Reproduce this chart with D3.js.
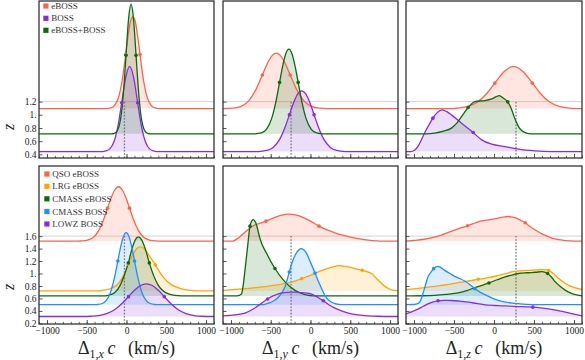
<!DOCTYPE html>
<html><head><meta charset="utf-8">
<script src="https://cdn.jsdelivr.net/npm/d3@7"></script>
<style>body{margin:0;background:#fff}svg{display:block}</style>
</head><body>
<svg id="c" width="585" height="360"></svg>
<script>
// ---------------- DATA ----------------
const components = ["x", "y", "z"];
const dipole = [-26, -244, 275];           // dotted reference line (km/s)
const xMajorTicks = [-1000, -500, 0, 500, 1000];
const xMinorTicks = d3.range(-1100, 1101, 100);

// top row
const topNames = ["eBOSS", "BOSS", "eBOSS+BOSS"];
const topColors = ["#FF6347", "#8A2BE2", "#0b6b0b"];
const topBase = [1.094, 0.443, 0.711];
const topZTicks = [0.4, 0.6, 0.8, 1.0, 1.2];
const topRefZ = 1.2;

// [velocity, height above baseline]
const top_x_eBOSS = [[-1100,0],[-250,0],[-200,0.01],[-150,0.05],[-100,0.17],[-50,0.46],[-10,0.82],[20,1.10],[50,1.32],[80,1.39],[110,1.32],[140,1.10],[170,0.82],[210,0.46],[260,0.17],[310,0.05],[360,0.01],[410,0],[1100,0]];
const top_x_BOSS = [[-1100,0],[-300,0],[-260,0.01],[-210,0.04],[-160,0.14],[-110,0.37],[-60,0.74],[-10,1.12],[40,1.29],[90,1.12],[140,0.74],[190,0.37],[240,0.14],[290,0.04],[340,0.01],[380,0],[1100,0]];
const top_x_comb = [[-1100,0],[-190,0],[-153,0.008],[-123,0.033],[-93,0.116],[-63,0.32],[-33,0.71],[-3,1.25],[27,1.755],[57,1.965],[87,1.755],[117,1.25],[147,0.71],[177,0.32],[207,0.116],[237,0.033],[267,0.008],[300,0],[1100,0]];
const top_y_eBOSS = [[-1100,0],[-980,0.006],[-880,0.031],[-780,0.114],[-680,0.303],[-605,0.51],[-530,0.714],[-480,0.806],[-430,0.84],[-380,0.806],[-330,0.714],[-255,0.51],[-180,0.303],[-80,0.114],[20,0.031],[120,0.006],[200,0],[1100,0]];
const top_y_BOSS = [[-1100,0],[-650,0],[-630,0.003],[-550,0.016],[-470,0.062],[-390,0.18],[-320,0.368],[-265,0.558],[-210,0.747],[-160,0.873],[-110,0.92],[-60,0.873],[-10,0.747],[45,0.558],[100,0.368],[170,0.18],[250,0.062],[330,0.016],[410,0.003],[460,0],[1100,0]];
const top_y_comb = [[-1100,0],[-700,0],[-672,0.004],[-612,0.019],[-552,0.073],[-492,0.219],[-432,0.504],[-389,0.78],[-352,1.015],[-312,1.21],[-272,1.283],[-232,1.21],[-192,1.015],[-155,0.78],[-112,0.504],[-52,0.219],[8,0.073],[68,0.019],[128,0.004],[170,0],[1100,0]];
const top_z_eBOSS = [[-1100,0],[-520,0],[-455,0.0075],[-325,0.034],[-205,0.10],[-85,0.237],[10,0.386],[125,0.558],[185,0.616],[245,0.636],[305,0.616],[365,0.558],[480,0.386],[575,0.237],[695,0.10],[815,0.034],[945,0.0075],[1100,0]];
const top_z_BOSS = [[-1100,0],[-1040,0],[-990,0.025],[-952,0.076],[-910,0.17],[-868,0.28],[-810,0.41],[-764,0.506],[-710,0.59],[-650,0.632],[-590,0.605],[-532,0.556],[-406,0.43],[-260,0.288],[-155,0.177],[-29,0.112],[138,0.076],[306,0.036],[516,0.01],[700,0],[1100,0]];
const top_z_comb = [[-1100,0],[-850,0],[-742,0.01],[-632,0.04],[-532,0.087],[-460,0.17],[-406,0.26],[-323,0.40],[-239,0.49],[-113,0.505],[-29,0.53],[67,0.58],[117,0.54],[172,0.485],[210,0.4],[243,0.29],[275,0.19],[306,0.11],[345,0.05],[390,0.02],[470,0],[1100,0]];

const top_x_eBOSS_m = [[-10,0.82],[170,0.82]];
const top_x_BOSS_m = [[-60,0.74],[140,0.74]];
const top_x_comb_m = [[-6,1.19],[120,1.19]];
const top_y_eBOSS_m = [[-605,0.51],[-255,0.51]];
const top_y_BOSS_m = [[-265,0.558],[45,0.558]];
const top_y_comb_m = [[-389,0.78],[-155,0.78]];
const top_z_eBOSS_m = [[10,0.386],[480,0.386]];
const top_z_BOSS_m = [[-764,0.506],[-260,0.288]];
const top_z_comb_m = [[-323,0.40],[172,0.485]];

// bottom row
const botNames = ["QSO eBOSS", "LRG eBOSS", "CMASS eBOSS", "CMASS BOSS", "LOWZ BOSS"];
const botColors = ["#FF6347", "#FFA500", "#0b6b0b", "#1E90FF", "#8A2BE2"];
const botBase = [1.52, 0.72, 0.64, 0.50, 0.31];
const botZTicks = [0.2, 0.4, 0.6, 0.8, 1.0, 1.2, 1.4, 1.6];
const botRefZ = 1.6;

const bot_x_QSO = [[-1100,0],[-600,0],[-570,0.003],[-500,0.013],[-420,0.059],[-350,0.169],[-290,0.338],[-238,0.529],[-200,0.671],[-150,0.816],[-100,0.872],[-50,0.816],[0,0.671],[38,0.529],[90,0.338],[150,0.169],[220,0.059],[300,0.013],[370,0.003],[420,0],[1100,0]];
const bot_x_LRG = [[-1100,0],[-400,0],[-300,0.01],[-200,0.04],[-100,0.12],[-30,0.27],[23,0.43],[80,0.58],[130,0.68],[175,0.706],[220,0.68],[280,0.58],[362,0.42],[430,0.28],[506,0.16],[580,0.09],[631,0.06],[720,0.025],[820,0.008],[900,0],[1100,0]];
const bot_x_CMe = [[-1100,0],[-300,0],[-230,0.01],[-150,0.05],[-80,0.17],[-20,0.36],[23,0.53],[70,0.76],[110,0.9],[150,0.947],[190,0.9],[240,0.74],[287,0.53],[340,0.33],[400,0.17],[470,0.07],[550,0.025],[650,0.005],[720,0],[1100,0]];
const bot_x_CMB = [[-1100,0],[-400,0],[-364,0.003],[-304,0.019],[-254,0.068],[-204,0.188],[-154,0.417],[-109,0.70],[-84,0.865],[-44,1.075],[-4,1.156],[36,1.075],[76,0.865],[101,0.70],[146,0.417],[196,0.188],[246,0.068],[296,0.019],[356,0.003],[400,0],[1100,0]];
const bot_x_LOWZ = [[-1100,0],[-550,0],[-450,0.004],[-350,0.015],[-250,0.045],[-150,0.108],[-50,0.216],[25,0.319],[100,0.42],[175,0.497],[250,0.525],[325,0.497],[400,0.42],[475,0.319],[550,0.216],[650,0.108],[750,0.045],[850,0.015],[950,0.004],[1100,0]];

const bot_y_QSO = [[-1100,0],[-978,0],[-920,0.04],[-865,0.096],[-740,0.23],[-560,0.32],[-405,0.40],[-279,0.433],[-190,0.42],[-111,0.39],[0,0.32],[107,0.24],[208,0.18],[308,0.133],[418,0.09],[518,0.059],[620,0.035],[727,0.016],[820,0.005],[895,0],[1100,0]];
const bot_y_LRG = [[-1100,0.01],[-850,0.035],[-614,0.064],[-440,0.095],[-279,0.128],[-111,0.198],[0,0.25],[98,0.305],[200,0.355],[308,0.396],[350,0.407],[410,0.4],[475,0.385],[560,0.36],[652,0.332],[710,0.31],[770,0.28],[830,0.2],[895,0.12],[940,0.07],[979,0.04],[1030,0.015],[1100,0.005]];
const bot_y_CMe = [[-1100,0],[-928,0],[-880,0.02],[-865,0.04],[-845,0.18],[-824,0.41],[-790,0.8],[-761,1.12],[-735,1.21],[-719,1.226],[-700,1.2],[-677,1.135],[-655,1.02],[-635,0.92],[-551,0.68],[-447,0.44],[-321,0.225],[-195,0.09],[-69,0.022],[50,0],[1100,0]];
const bot_y_CMB = [[-1100,0],[-614,0],[-550,0.015],[-488,0.043],[-430,0.09],[-384,0.15],[-321,0.283],[-267,0.523],[-230,0.68],[-195,0.79],[-155,0.87],[-119,0.90],[-85,0.88],[-48,0.82],[0,0.68],[57,0.508],[100,0.37],[141,0.257],[180,0.15],[224,0.08],[266,0.04],[308,0.016],[360,0.004],[392,0],[1100,0]];
const bot_y_LOWZ = [[-1100,0.01],[-950,0.025],[-824,0.054],[-720,0.12],[-614,0.214],[-539,0.28],[-470,0.33],[-405,0.364],[-330,0.383],[-258,0.39],[-185,0.39],[-111,0.385],[-40,0.375],[15,0.36],[90,0.31],[161,0.252],[230,0.19],[308,0.134],[390,0.09],[475,0.054],[600,0.025],[727,0.011],[850,0.004],[1000,0],[1100,0]];

const bot_z_QSO = [[-1100,0],[-1000,0.01],[-868,0.03],[-760,0.06],[-658,0.096],[-580,0.135],[-491,0.177],[-410,0.215],[-331,0.246],[-260,0.28],[-197,0.31],[-110,0.332],[-29,0.348],[50,0.368],[138,0.39],[180,0.395],[230,0.385],[285,0.364],[340,0.33],[390,0.294],[450,0.235],[516,0.177],[600,0.115],[683,0.07],[760,0.035],[851,0.016],[950,0.004],[1050,0],[1100,0]];
const bot_z_LRG = [[-1100,0.02],[-920,0.045],[-742,0.075],[-600,0.1],[-449,0.134],[-320,0.16],[-197,0.187],[-90,0.21],[13,0.236],[120,0.27],[222,0.305],[320,0.322],[432,0.332],[540,0.338],[620,0.343],[683,0.327],[740,0.28],[809,0.199],[870,0.14],[935,0.091],[1020,0.05],[1100,0.027]];
const bot_z_CMe = [[-1100,0],[-900,0.003],[-742,0.01],[-600,0.025],[-449,0.048],[-340,0.085],[-239,0.134],[-150,0.17],[-63,0.209],[40,0.26],[138,0.305],[220,0.335],[306,0.36],[410,0.372],[516,0.38],[600,0.39],[671,0.36],[720,0.3],[767,0.225],[830,0.15],[893,0.09],[960,0.045],[1019,0.022],[1070,0.008],[1100,0.003]];
const bot_z_CMB = [[-1100,0],[-1000,0.003],[-952,0.016],[-920,0.06],[-889,0.176],[-860,0.3],[-826,0.443],[-790,0.52],[-755,0.578],[-700,0.615],[-660,0.59],[-616,0.55],[-550,0.5],[-491,0.454],[-430,0.42],[-365,0.379],[-300,0.32],[-239,0.257],[-180,0.205],[-113,0.16],[-30,0.11],[54,0.069],[150,0.04],[230,0.025],[306,0.016],[400,0.006],[500,0],[1100,0]];
const bot_z_LOWZ = [[-1100,0.043],[-1030,0.075],[-952,0.118],[-890,0.16],[-826,0.204],[-760,0.235],[-700,0.252],[-620,0.258],[-532,0.257],[-430,0.247],[-323,0.231],[-220,0.21],[-113,0.188],[0,0.177],[97,0.172],[200,0.166],[306,0.16],[400,0.155],[486,0.15],[580,0.14],[683,0.124],[790,0.1],[893,0.07],[1000,0.04],[1100,0.011]];

const bot_x_QSO_m = [[-238,0.529],[38,0.529]];
const bot_x_LRG_m = [[23,0.43],[362,0.42]];
const bot_x_CMe_m = [[23,0.53],[287,0.53]];
const bot_x_CMB_m = [[-109,0.70],[101,0.70]];
const bot_x_LOWZ_m = [[25,0.319],[475,0.319]];
const bot_y_QSO_m = [[-560,0.32],[107,0.24]];
const bot_y_LRG_m = [[-111,0.198],[652,0.332]];
const bot_y_CMe_m = [[-761,1.12],[-447,0.44]];
const bot_y_CMB_m = [[-267,0.523],[57,0.508]];
const bot_y_LOWZ_m = [[-539,0.28],[161,0.252]];
const bot_z_QSO_m = [[-331,0.246],[390,0.294]];
const bot_z_LRG_m = [[-197,0.187],[683,0.327]];
const bot_z_CMe_m = [[-63,0.209],[671,0.36]];
const bot_z_CMB_m = [[-755,0.578],[-239,0.257]];
const bot_z_LOWZ_m = [[-700,0.252],[486,0.15]];

// ---------------- LAYOUT ----------------
const FONT = "Liberation Serif, Times New Roman, serif";
const colX = [[39, 214], [223, 398], [406, 582]];
const rows = [
  { y: [1, 158], dom: [0.345, 2.725], zt: topZTicks, ref: topRefZ, names: topNames, colors: topColors, base: topBase,
    curves: [[top_x_eBOSS, top_x_BOSS, top_x_comb], [top_y_eBOSS, top_y_BOSS, top_y_comb], [top_z_eBOSS, top_z_BOSS, top_z_comb]],
    marks: [[top_x_eBOSS_m, top_x_BOSS_m, top_x_comb_m], [top_y_eBOSS_m, top_y_BOSS_m, top_y_comb_m], [top_z_eBOSS_m, top_z_BOSS_m, top_z_comb_m]],
    legendY: [6, 18.3, 30.3], legendX: 43.3, labels: false, zlabY: 127 },
  { y: [166, 324], dom: [0.19, 2.725], zt: botZTicks, ref: botRefZ, names: botNames, colors: botColors, base: botBase,
    curves: [[bot_x_QSO, bot_x_LRG, bot_x_CMe, bot_x_CMB, bot_x_LOWZ], [bot_y_QSO, bot_y_LRG, bot_y_CMe, bot_y_CMB, bot_y_LOWZ], [bot_z_QSO, bot_z_LRG, bot_z_CMe, bot_z_CMB, bot_z_LOWZ]],
    marks: [[bot_x_QSO_m, bot_x_LRG_m, bot_x_CMe_m, bot_x_CMB_m, bot_x_LOWZ_m], [bot_y_QSO_m, bot_y_LRG_m, bot_y_CMe_m, bot_y_CMB_m, bot_y_LOWZ_m], [bot_z_QSO_m, bot_z_LRG_m, bot_z_CMe_m, bot_z_CMB_m, bot_z_LOWZ_m]],
    legendY: [174, 186.3, 198.8, 211.5, 224], legendX: 44.3, labels: true, zlabY: 287 }
];

const svg = d3.select("#c");
const zFmt = v => (Math.abs(v - 1) < 1e-9 ? "1." : d3.format(".1f")(v));

rows.forEach((row, ri) => {
  colX.forEach((cx, ci) => {
    const x = d3.scaleLinear().domain([-1100, 1100]).range(cx);
    const y = d3.scaleLinear().domain(row.dom).range([row.y[1], row.y[0]]);
    const g = svg.append("g");
    const cid = `clip${ri}${ci}`;
    g.append("clipPath").attr("id", cid).append("rect")
      .attr("x", cx[0]).attr("y", row.y[0]).attr("width", cx[1] - cx[0]).attr("height", row.y[1] - row.y[0]);
    const p = g.append("g").attr("clip-path", `url(#${cid})`);

    // reference horizontal line
    p.append("line").attr("x1", cx[0]).attr("x2", cx[1]).attr("y1", y(row.ref)).attr("y2", y(row.ref))
      .attr("stroke", "#d4d4d4").attr("stroke-width", 1);

    // fills
    row.curves[ci].forEach((data, si) => {
      const b = row.base[si];
      const area = d3.area().x(d => x(d[0])).y0(y(b)).y1(d => y(b + d[1])).curve(d3.curveMonotoneX);
      p.append("path").datum(data).attr("d", area).attr("fill", row.colors[si]).attr("fill-opacity", 0.16);
    });

    // dotted dipole line
    p.append("line").attr("x1", x(dipole[ci])).attr("x2", x(dipole[ci]))
      .attr("y1", row.y[1]).attr("y2", y(row.ref))
      .attr("stroke", "#777").attr("stroke-width", 1.3).attr("stroke-dasharray", "1.6,1.6");

    // lines
    row.curves[ci].forEach((data, si) => {
      const b = row.base[si];
      const line = d3.line().x(d => x(d[0])).y(d => y(b + d[1])).curve(d3.curveMonotoneX);
      p.append("path").datum(data).attr("d", line).attr("fill", "none")
        .attr("stroke", row.colors[si]).attr("stroke-width", 1.3);
    });
    // markers
    row.marks[ci].forEach((data, si) => {
      const b = row.base[si];
      p.selectAll(null).data(data).enter().append("circle")
        .attr("cx", d => x(d[0])).attr("cy", d => y(b + d[1])).attr("r", 1.8)
        .attr("fill", row.colors[si]);
    });

    // axes
    const xa = g.append("g").attr("transform", `translate(0,${row.y[1]})`)
      .call(d3.axisBottom(x).tickValues(xMinorTicks).tickFormat("").tickSizeInner(-2.2).tickSizeOuter(0));
    xa.select(".domain").remove();
    xa.selectAll("line").attr("stroke", "#444").attr("stroke-width", 0.8);
    const xb = g.append("g").attr("transform", `translate(0,${row.y[1]})`)
      .call(d3.axisBottom(x).tickValues(xMajorTicks)
        .tickFormat(row.labels ? (d => d < 0 ? "\u2212" + Math.abs(d) : String(d)) : "")
        .tickSizeInner(-4).tickSizeOuter(0).tickPadding(3));
    xb.select(".domain").remove();
    xb.selectAll("line").attr("stroke", "#444").attr("stroke-width", 0.9);
    xb.selectAll("text").attr("font-family", FONT).attr("font-size", 9.5).attr("fill", "#222");

    const ya = g.append("g").attr("transform", `translate(${cx[0]},0)`)
      .call(d3.axisLeft(y).tickValues(row.zt).tickFormat(ci === 0 ? zFmt : "")
        .tickSizeInner(-3.5).tickSizeOuter(0).tickPadding(2.5));
    ya.select(".domain").remove();
    ya.selectAll("line").attr("stroke", "#444").attr("stroke-width", 0.9);
    ya.selectAll("text").attr("font-family", FONT).attr("font-size", 9.5).attr("fill", "#222");

    // frame
    g.append("rect").attr("x", cx[0]).attr("y", row.y[0]).attr("width", cx[1] - cx[0]).attr("height", row.y[1] - row.y[0])
      .attr("fill", "none").attr("stroke", "#333").attr("stroke-width", 1.3);

    // x label
    if (row.labels) {
      const t = svg.append("text").attr("x", (cx[0] + cx[1]) / 2).attr("y", 354)
        .attr("text-anchor", "middle").attr("font-family", FONT).attr("font-size", 18).attr("fill", "#222");
      t.append("tspan").text("\u0394");
      t.append("tspan").attr("font-size", 12).attr("dy", 4).text("1,");
      t.append("tspan").attr("font-size", 12).attr("font-style", "italic").text(components[ci]);
      t.append("tspan").attr("dy", -4).attr("font-style", "italic").text("\u2009c");
      t.append("tspan").text("\u2002\u2009(km/s)");
    }
  });

  // legend
  const lg = svg.append("g");
  row.names.forEach((n, i) => {
    lg.append("rect").attr("x", row.legendX).attr("y", row.legendY[i] - 2.6).attr("width", 5.2).attr("height", 5.2)
      .attr("fill", row.colors[i]);
    lg.append("text").attr("x", row.legendX + 8).attr("y", row.legendY[i] + 3)
      .attr("font-family", FONT).attr("font-size", 9).attr("fill", "#333").text(n);
  });

  // z label
  svg.append("text").attr("transform", `translate(14,${row.zlabY}) rotate(-90)`)
    .attr("text-anchor", "middle").attr("font-family", FONT).attr("font-style", "italic")
    .attr("font-size", 16).attr("fill", "#222").text("z");
});
</script></body></html>
